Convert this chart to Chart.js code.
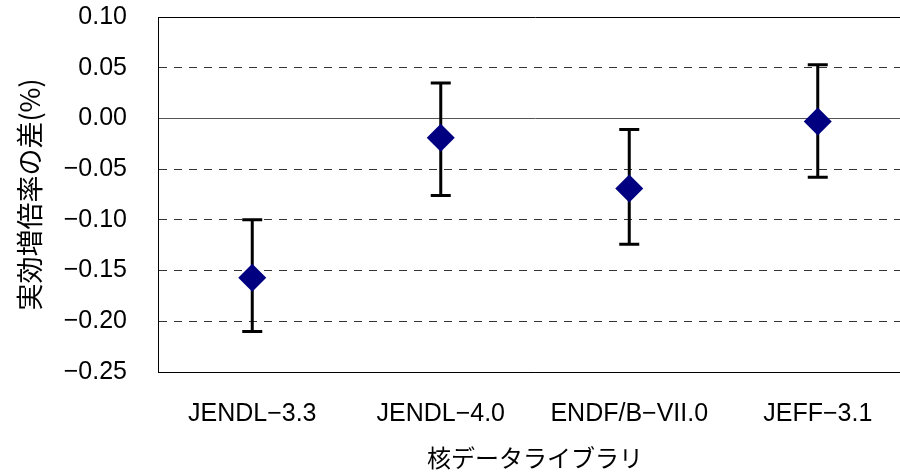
<!DOCTYPE html>
<html>
<head>
<meta charset="utf-8">
<script src="https://cdn.jsdelivr.net/npm/chart.js@4"></script>
<style>
  html, body { margin: 0; padding: 0; background: #fff; overflow: hidden; }
  #wrap { width: 926px; height: 472px; }
</style>
</head>
<body>
<div id="wrap"><canvas id="err-chart"></canvas></div>
<script>
// nuclear data libraries and the keff difference (%)
const libraries = ["JENDL\u22123.3", "JENDL\u22124.0", "ENDF/B\u2212VII.0", "JEFF\u22123.1"];
const diffValues = [-0.157, -0.019, -0.069, -0.003];
const errLow = [-0.210, -0.076, -0.124, -0.058];
const errHigh = [-0.100, 0.035, -0.011, 0.053];
const yMin = -0.25, yMax = 0.10, yStep = 0.05;

const near = (a, b) => Math.abs(a - b) < 1e-9;

// error bars, drawn under the diamonds
const errorBars = {
  id: 'errorBars',
  beforeDatasetsDraw(chart) {
    const ctx = chart.ctx;
    const x = chart.scales.x, y = chart.scales.y;
    ctx.save();
    ctx.strokeStyle = '#000';
    ctx.lineWidth = 3;
    libraries.forEach((lib, i) => {
      const px = x.getPixelForValue(i);
      const top = y.getPixelForValue(errHigh[i]);
      const bot = y.getPixelForValue(errLow[i]);
      ctx.beginPath();
      ctx.moveTo(px, top); ctx.lineTo(px, bot);
      ctx.moveTo(px - 10, top); ctx.lineTo(px + 10, top);
      ctx.moveTo(px - 10, bot); ctx.lineTo(px + 10, bot);
      ctx.stroke();
    });
    ctx.restore();
  }
};

new Chart(document.getElementById("err-chart"), {
  type: 'line',
  data: {
    labels: libraries,
    datasets: [{
      data: diffValues,
      showLine: false,
      pointStyle: 'rectRot',
      pointRadius: 14,
      pointHoverRadius: 14,
      pointBackgroundColor: '#000080',
      pointBorderWidth: 0
    }]
  },
  options: {
    responsive: true,
    maintainAspectRatio: false,
    animation: false,
    events: [],
    layout: { padding: { top: 17, left: 0, right: 0, bottom: 0 } },
    plugins: { legend: { display: false }, tooltip: { enabled: false } },
    scales: {
      x: {
        offset: true,
        grid: { drawOnChartArea: false, drawTicks: false },
        border: { color: '#000', width: 1 },
        ticks: {
          color: '#000',
          padding: 27,
          font: { family: "'Liberation Sans', Arial, sans-serif", size: 25 }
        },
        title: {
          display: true,
          text: '核データライブラリ',
          color: '#000',
          padding: { top: 0, bottom: 0 },
          font: { family: "'Noto Sans CJK JP', sans-serif", size: 24 }
        },
        afterFit(scale) {
          scale.height = 100;
          scale.paddingLeft = 0;
          scale.paddingRight = 0;
        }
      },
      y: {
        min: yMin,
        max: yMax,
        grid: {
          drawTicks: false,
          lineWidth: 1,
          color: (c) => {
            if (!c.tick) return '#000';
            if (near(c.tick.value, yMax)) return '#000';
            if (near(c.tick.value, 0)) return '#555';
            return '#333';
          }
        },
        border: {
          color: '#000',
          width: 1,
          dash: (c) => {
            if (c.type !== 'tick' || !c.tick) return [];
            if (near(c.tick.value, 0) || near(c.tick.value, yMax)) return [];
            return [8, 7];
          }
        },
        ticks: {
          stepSize: yStep,
          color: '#000',
          padding: 31,
          font: { family: "'Liberation Sans', Arial, sans-serif", size: 25 },
          callback: (v) => (near(v, 0) ? 0 : v).toFixed(2).replace('-', '\u2212')
        },
        title: {
          display: true,
          text: '実効増倍率の差(%)',
          color: '#000',
          padding: { top: 14, bottom: 0 },
          font: { family: "'Noto Sans CJK JP', sans-serif", size: 27 }
        },
        afterFit(scale) {
          scale.width = 158;
          scale.paddingTop = 0;
          scale.paddingBottom = 0;
        }
      }
    }
  },
  plugins: [errorBars]
});
</script>
</body>
</html>
